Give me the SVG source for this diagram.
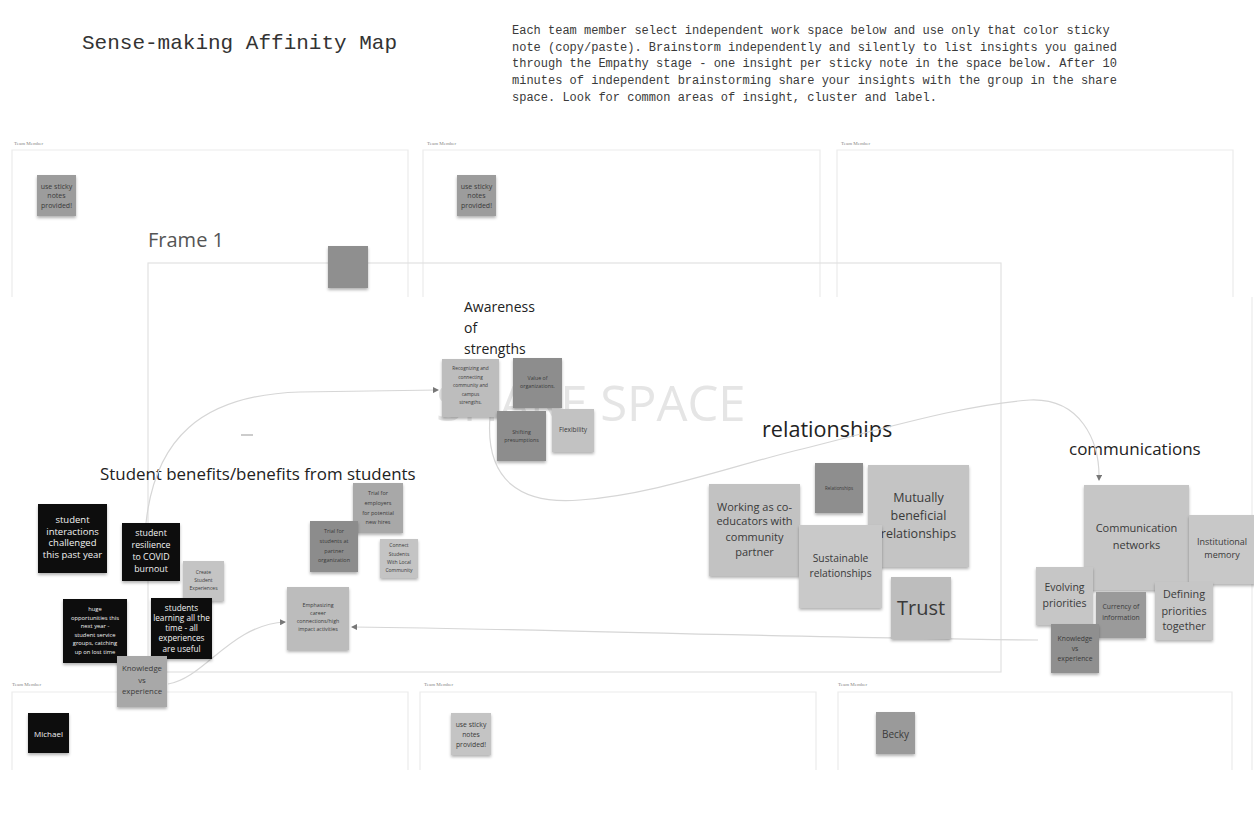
<svg xmlns="http://www.w3.org/2000/svg" width="1254" height="824" viewBox="0 0 1254 824">
<style>
.mono{font-family:"Liberation Mono","DejaVu Sans Mono",monospace;fill:#333}
.lbl{font-family:"Open Sans","Noto Sans",sans-serif;fill:#222}
.tm{font-family:"Liberation Serif",serif;font-size:5px;fill:#888}
.box{fill:none;stroke:#ebebeb;stroke-width:1.2}
.st text{font-family:"Open Sans","Noto Sans",sans-serif;fill:#3a3a3a;text-anchor:middle}
.st.dk text{fill:#f2f2f2}
.st rect{filter:url(#sh)}
.con{fill:none;stroke:#d6d6d6;stroke-width:1.2}
</style>
<defs>
<filter id="sh" x="-20%" y="-20%" width="140%" height="150%"><feDropShadow dx="0" dy="2" stdDeviation="1.5" flood-color="#000" flood-opacity="0.3"/></filter>
<marker id="ar" viewBox="0 0 6 6" refX="5" refY="3" markerWidth="5" markerHeight="5" orient="auto"><path d="M0,0 L6,3 L0,6 z" fill="#777"/></marker>
</defs>
<rect width="1254" height="824" fill="#fff"/>

<text class="mono" x="82" y="49" font-size="21">Sense-making Affinity Map</text>
<g class="mono" font-size="12" style="fill:#3a3a3a">
<text x="512" y="34">Each team member select independent work space below and use only that color sticky</text>
<text x="512" y="51">note (copy/paste). Brainstorm independently and silently to list insights you gained</text>
<text x="512" y="67">through the Empathy stage - one insight per sticky note in the space below. After 10</text>
<text x="512" y="84">minutes of independent brainstorming share your insights with the group in the share</text>
<text x="512" y="101">space. Look for common areas of insight, cluster and label.</text>
</g>

<g id="team-spaces">
<text class="tm" x="14" y="145">Team Member</text>
<text class="tm" x="427" y="145">Team Member</text>
<text class="tm" x="841" y="145">Team Member</text>
<path class="box" d="M12,297 V150 H408 V297"/>
<path class="box" d="M423,297 V150 H820 V297"/>
<path class="box" d="M837,297 V150 H1233 V297"/>
<path class="box" d="M1252,297 V770"/>
<text class="tm" x="12" y="686">Team Member</text>
<text class="tm" x="424" y="686">Team Member</text>
<text class="tm" x="838" y="686">Team Member</text>
<path class="box" d="M12,770 V692 H408 V770"/>
<path class="box" d="M420,770 V692 H816 V770"/>
<path class="box" d="M838,770 V692 H1232 V770"/>
</g>

<g id="frame1">
<text class="lbl" x="148" y="247" font-size="20" style="fill:#555">Frame 1</text>
<rect x="148" y="263" width="853" height="409" fill="none" stroke="#e2e2e2" stroke-width="1.2"/>
<text x="436" y="421" font-family="'Open Sans','Noto Sans',sans-serif" font-size="49" fill="#e5e5e5">SHARE SPACE</text>
<line x1="241" y1="435" x2="253" y2="435" stroke="#aaa" stroke-width="1.2"/>
</g>

<g id="labels">
<text class="lbl" font-size="14"><tspan x="464" y="312">Awareness</tspan><tspan x="464" y="333">of</tspan><tspan x="464" y="354">strengths</tspan></text>
<text class="lbl" x="100" y="480" font-size="16.9">Student benefits/benefits from students</text>
<text class="lbl" x="762" y="437" font-size="21.6">relationships</text>
<text class="lbl" x="1069" y="455" font-size="17">communications</text>
</g>

<g id="connectors">
<path class="con" d="M146,523 C155,440 200,395 300,392 L438,390" marker-end="url(#ar)"/>
<path class="con" d="M168,684 C205,678 230,625 285,622" marker-end="url(#ar)"/>
<path class="con" d="M1038,640 C800,638 500,628 352,627" marker-end="url(#ar)"/>
<path class="con" d="M490,417 C485,480 520,505 580,500 C650,495 720,470 790,452 C880,430 960,405 1030,400 C1080,398 1100,440 1099,480" marker-end="url(#ar)"/>
</g>

<g id="n-top1" class="st"><rect x="37" y="175" width="39" height="41" fill="#9c9c9c"/><text font-size="7"><tspan x="56.5" y="188.5">use sticky</tspan><tspan x="56.5" y="197.5">notes</tspan><tspan x="56.5" y="207.5">provided!</tspan></text></g>
<g id="n-top2" class="st"><rect x="457" y="175" width="39" height="41" fill="#9c9c9c"/><text font-size="7"><tspan x="476.5" y="188.5">use sticky</tspan><tspan x="476.5" y="197.5">notes</tspan><tspan x="476.5" y="207.5">provided!</tspan></text></g>
<g id="n-blank" class="st"><rect x="328" y="246" width="40" height="42" fill="#8f8f8f"/></g>

<g id="n-recognizing" class="st"><rect x="442" y="359" width="57" height="58" fill="#bdbdbd"/><text font-size="4.8"><tspan x="470.5" y="370">Recognizing and</tspan><tspan x="470.5" y="378.5">connecting</tspan><tspan x="470.5" y="387">community and</tspan><tspan x="470.5" y="395.5">campus</tspan><tspan x="470.5" y="404">strengths.</tspan></text></g>
<g id="n-value" class="st"><rect x="513" y="358" width="49" height="50" fill="#8d8d8d"/><text font-size="5.3"><tspan x="537.5" y="380">Value of</tspan><tspan x="537.5" y="388">organizations.</tspan></text></g>
<g id="n-shifting" class="st"><rect x="497" y="411" width="49" height="50" fill="#8d8d8d"/><text font-size="5.3"><tspan x="521.5" y="434">Shifting</tspan><tspan x="521.5" y="442">presumptions</tspan></text></g>
<g id="n-flex" class="st"><rect x="552" y="409" width="42" height="43" fill="#c2c2c2"/><text font-size="6.5"><tspan x="573" y="432">Flexibility</tspan></text></g>

<g id="n-interactions" class="st dk"><rect x="38" y="504" width="69" height="69" fill="#111"/><text font-size="9.5"><tspan x="72.5" y="523">student</tspan><tspan x="72.5" y="534.5">interactions</tspan><tspan x="72.5" y="546">challenged</tspan><tspan x="72.5" y="558">this past year</tspan></text></g>
<g id="n-resilience" class="st dk"><rect x="122" y="523" width="58" height="58" fill="#111"/><text font-size="8.8"><tspan x="151" y="536">student</tspan><tspan x="151" y="548">resilience</tspan><tspan x="151" y="560">to COVID</tspan><tspan x="151" y="572">burnout</tspan></text></g>
<g id="n-create" class="st"><rect x="183" y="561" width="41" height="40" fill="#c4c4c4"/><text font-size="5"><tspan x="203.5" y="574">Create</tspan><tspan x="203.5" y="582">Student</tspan><tspan x="203.5" y="590">Experiences</tspan></text></g>
<g id="n-huge" class="st dk"><rect x="63" y="599" width="64" height="64" fill="#111"/><text font-size="5.8"><tspan x="95" y="611">huge</tspan><tspan x="95" y="619.5">opportunities this</tspan><tspan x="95" y="628">next year -</tspan><tspan x="95" y="636.5">student service</tspan><tspan x="95" y="645">groups, catching</tspan><tspan x="95" y="654">up on lost time</tspan></text></g>
<g id="n-learning" class="st dk"><rect x="151" y="598" width="61" height="61" fill="#111"/><text font-size="8.2"><tspan x="181.5" y="611">students</tspan><tspan x="181.5" y="621">learning all the</tspan><tspan x="181.5" y="631">time - all</tspan><tspan x="181.5" y="641">experiences</tspan><tspan x="181.5" y="652">are useful</tspan></text></g>
<g id="n-knowledge1" class="st"><rect x="117" y="656" width="50" height="51" fill="#a8a8a8"/><text font-size="7.8"><tspan x="142" y="671">Knowledge</tspan><tspan x="142" y="683">vs</tspan><tspan x="142" y="694">experience</tspan></text></g>

<g id="n-trial-emp" class="st"><rect x="353" y="483" width="50" height="50" fill="#a8a8a8"/><text font-size="5.5"><tspan x="378" y="495">Trial for</tspan><tspan x="378" y="505">employers</tspan><tspan x="378" y="515">for potential</tspan><tspan x="378" y="524">new hires</tspan></text></g>
<g id="n-trial-stu" class="st"><rect x="310" y="521" width="48" height="51" fill="#8c8c8c"/><text font-size="5.5"><tspan x="334" y="533">Trial for</tspan><tspan x="334" y="543">students at</tspan><tspan x="334" y="553">partner</tspan><tspan x="334" y="562">organization</tspan></text></g>
<g id="n-connect" class="st"><rect x="380" y="539" width="38" height="39" fill="#c4c4c4"/><text font-size="5"><tspan x="399" y="547">Connect</tspan><tspan x="399" y="556">Students</tspan><tspan x="399" y="564">With Local</tspan><tspan x="399" y="572">Community</tspan></text></g>
<g id="n-emph" class="st"><rect x="287" y="587" width="62" height="63" fill="#bcbcbc"/><text font-size="5.3"><tspan x="318" y="607">Emphasizing</tspan><tspan x="318" y="615">career</tspan><tspan x="318" y="623">connections/high</tspan><tspan x="318" y="631">impact activities</tspan></text></g>

<g id="n-working" class="st"><rect x="709" y="484" width="91" height="92" fill="#c2c2c2"/><text font-size="11"><tspan x="754.5" y="511">Working as co-</tspan><tspan x="754.5" y="525">educators with</tspan><tspan x="754.5" y="541">community</tspan><tspan x="754.5" y="556">partner</tspan></text></g>
<g id="n-relationships" class="st"><rect x="815" y="463" width="48" height="50" fill="#8e8e8e"/><text font-size="4.5"><tspan x="839" y="490">Relationships</tspan></text></g>
<g id="n-mutually" class="st"><rect x="868" y="465" width="101" height="102" fill="#c4c4c4"/><text font-size="12.5"><tspan x="918.5" y="502">Mutually</tspan><tspan x="918.5" y="520">beneficial</tspan><tspan x="918.5" y="538">relationships</tspan></text></g>
<g id="n-sustainable" class="st"><rect x="799" y="525" width="83" height="83" fill="#c9c9c9"/><text font-size="10.3"><tspan x="840.5" y="561.5">Sustainable</tspan><tspan x="840.5" y="576.5">relationships</tspan></text></g>
<g id="n-trust" class="st"><rect x="891" y="577" width="60" height="62" fill="#bdbdbd"/><text font-size="20"><tspan x="921" y="615">Trust</tspan></text></g>

<g id="n-commnet" class="st"><rect x="1084" y="485" width="105" height="105" fill="#c6c6c6"/><text font-size="11"><tspan x="1136.5" y="532">Communication</tspan><tspan x="1136.5" y="549">networks</tspan></text></g>
<g id="n-institutional" class="st"><rect x="1189" y="515" width="70" height="69" fill="#c8c8c8"/><text font-size="9"><tspan x="1222" y="545">Institutional</tspan><tspan x="1222" y="558">memory</tspan></text></g>
<g id="n-evolving" class="st"><rect x="1036" y="567" width="57" height="58" fill="#c6c6c6"/><text font-size="10.5"><tspan x="1064.5" y="591">Evolving</tspan><tspan x="1064.5" y="607">priorities</tspan></text></g>
<g id="n-currency" class="st"><rect x="1096" y="592" width="50" height="46" fill="#9a9a9a"/><text font-size="6.8"><tspan x="1121" y="608.5">Currency of</tspan><tspan x="1121" y="619.5">information</tspan></text></g>
<g id="n-defining" class="st"><rect x="1155" y="582" width="58" height="58" fill="#c6c6c6"/><text font-size="10.8"><tspan x="1184" y="598">Defining</tspan><tspan x="1184" y="615">priorities</tspan><tspan x="1184" y="630">together</tspan></text></g>
<g id="n-knowledge2" class="st"><rect x="1051" y="624" width="48" height="49" fill="#8f8f8f"/><text font-size="6.8"><tspan x="1075" y="640.5">Knowledge</tspan><tspan x="1075" y="650.5">vs</tspan><tspan x="1075" y="660.5">experience</tspan></text></g>

<g id="n-michael" class="st dk"><rect x="28" y="713" width="41" height="40" fill="#111"/><text font-size="8"><tspan x="48.5" y="737">Michael</tspan></text></g>
<g id="n-bottom-use" class="st"><rect x="451" y="713" width="40" height="42" fill="#c4c4c4"/><text font-size="6.8"><tspan x="471" y="726.5">use sticky</tspan><tspan x="471" y="736.5">notes</tspan><tspan x="471" y="747">provided!</tspan></text></g>
<g id="n-becky" class="st"><rect x="876" y="712" width="39" height="42" fill="#9a9a9a"/><text font-size="10"><tspan x="895.5" y="737.5">Becky</tspan></text></g>
</svg>
